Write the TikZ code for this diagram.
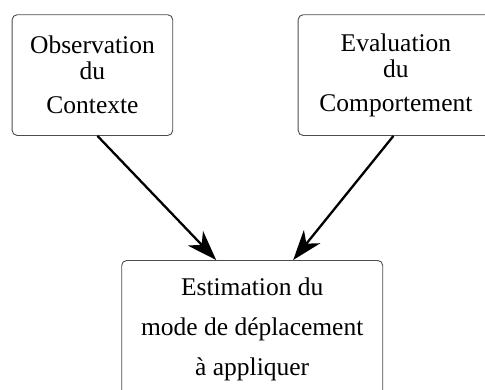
\documentclass[tikz,border=0pt]{standalone}
\usepackage{fontspec}
\setmainfont{Liberation Serif}
\usepackage{tikz}
\usetikzlibrary{arrows.meta,positioning}

\begin{document}
\begin{tikzpicture}[x=1pt,y=-1pt,
  boite/.style={draw=black!70,line width=0.9pt,rounded corners=5pt,align=center,
    font=\fontsize{25.5}{30}\selectfont,inner sep=0pt},
  fleche/.style={line width=2.3pt,-{Stealth[length=30pt,width=21pt,inset=9pt]}}]
\useasboundingbox (0,0) rectangle (485,389);
\node[boite,anchor=north west,minimum width=160.6pt,minimum height=120.7pt] (obs) at (11.7,14.3)
  {Observation\\[-4.3pt]du\\[4pt]Contexte};
\node[boite,anchor=north west,minimum width=195.6pt,minimum height=120.7pt] (eval) at (297.7,14.3)
  {Evaluation\\[-4.3pt]du\\[4pt]Comportement};
\node[boite,anchor=north,minimum width=261pt,minimum height=138.5pt] (estim) at (252.2,260)
  {Estimation du\\[10pt]mode de d\'eplacement\\[10pt]\`a appliquer};
\draw[fleche] ([xshift=5pt]obs.south) -- ([xshift=-36pt]estim.north);
\draw[fleche] ([xshift=-2.5pt]eval.south) -- ([xshift=41pt]estim.north);
\end{tikzpicture}
\end{document}
